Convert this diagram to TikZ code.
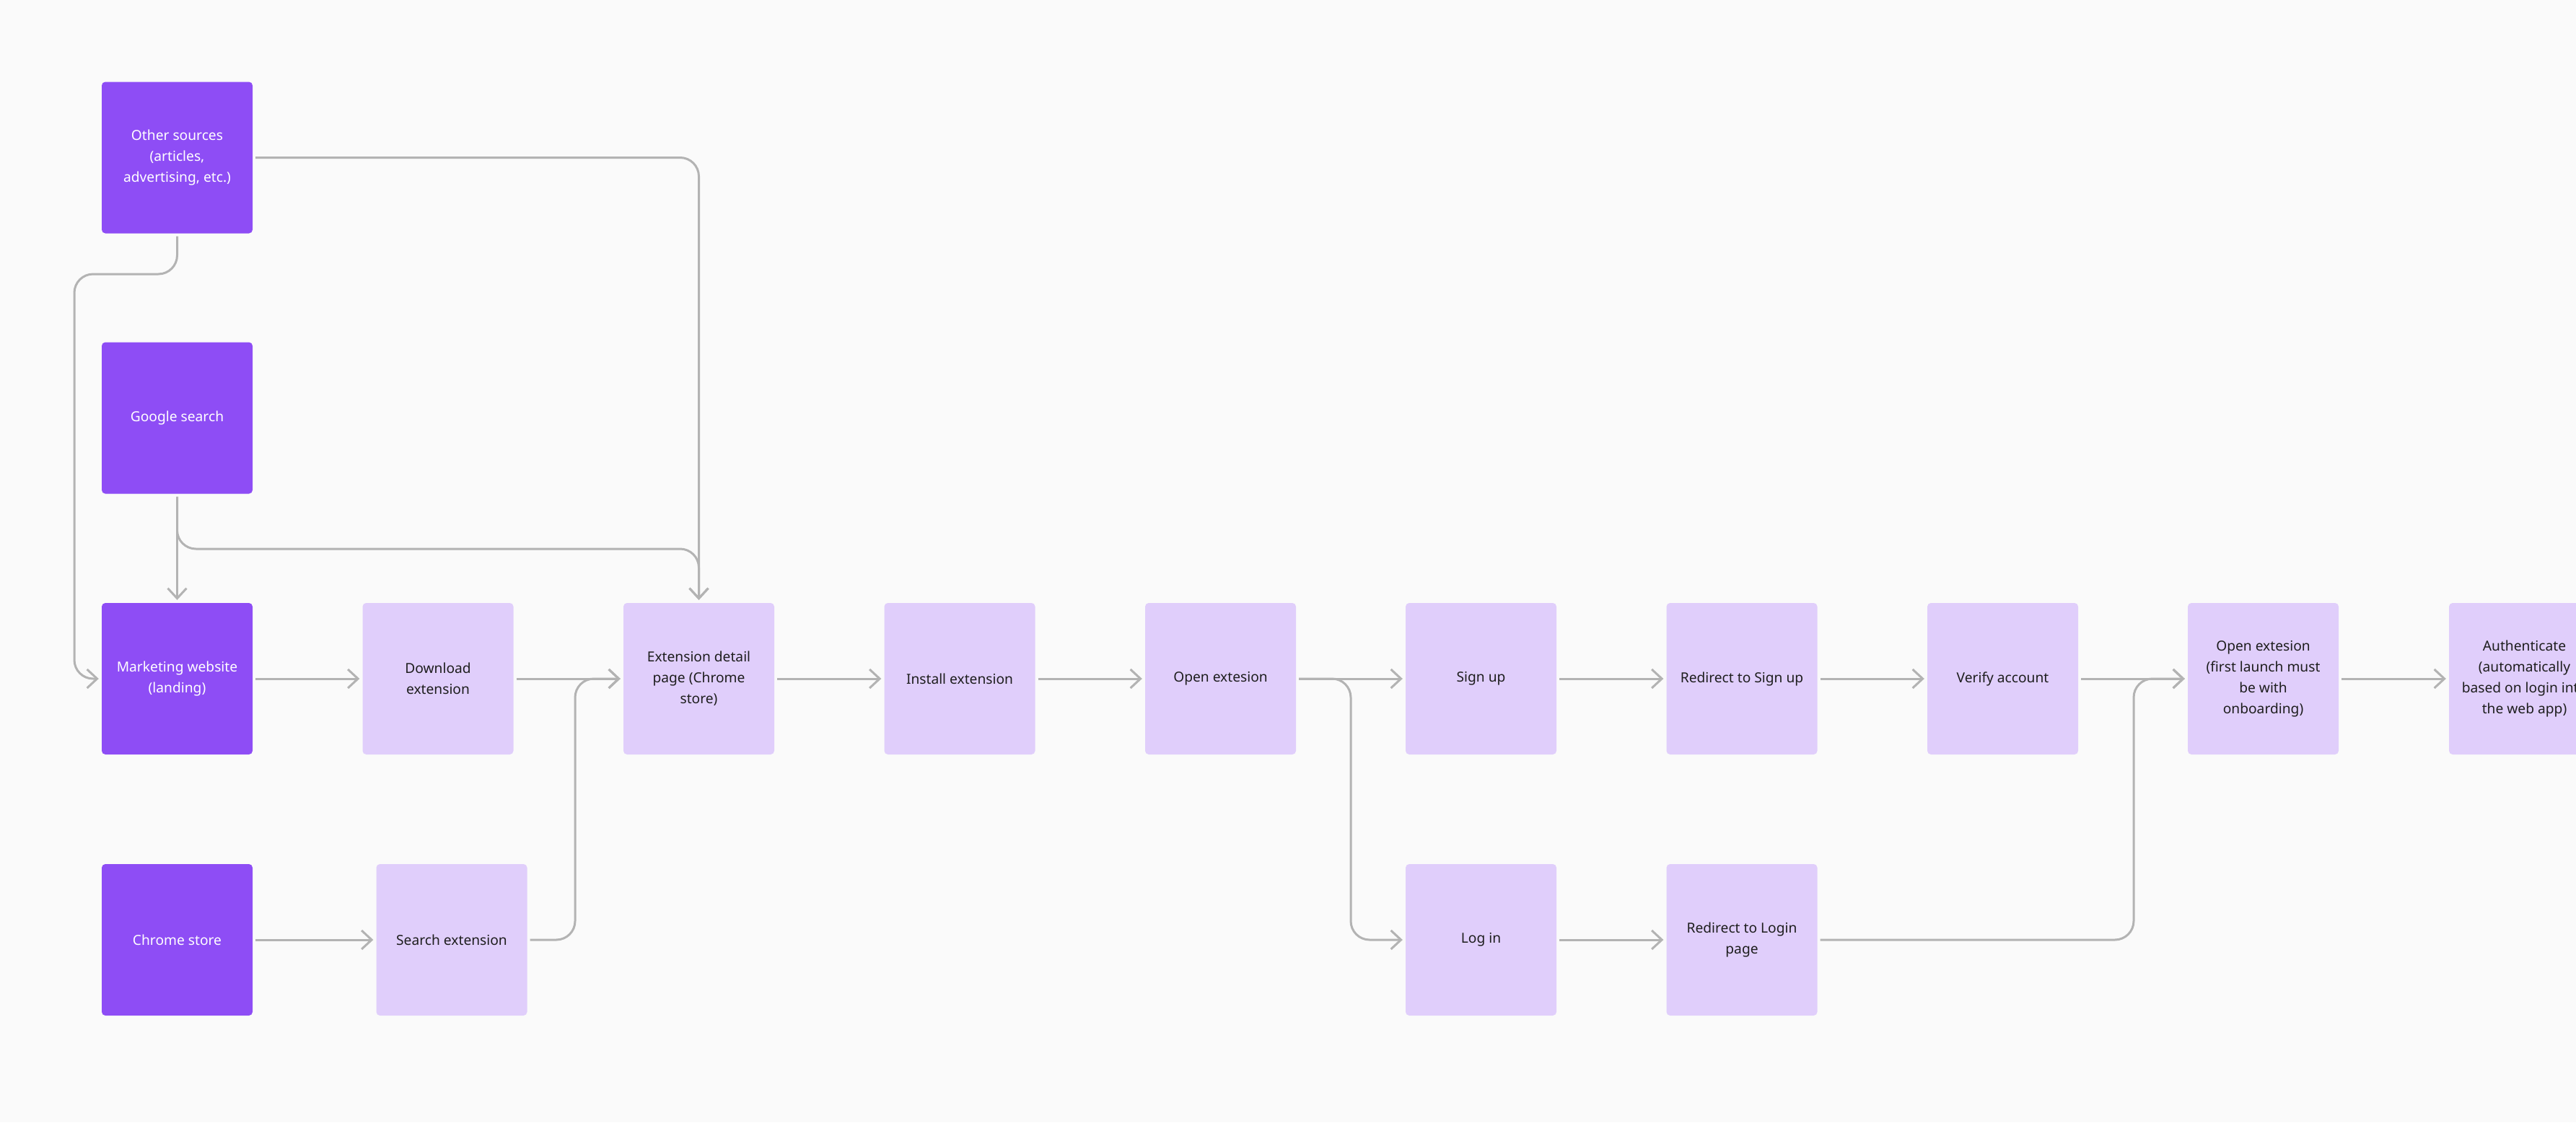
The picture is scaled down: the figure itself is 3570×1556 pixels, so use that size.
\documentclass[tikz,border=0pt]{standalone}
\usepackage{fontspec}
\setmainfont{Noto Sans}
\usetikzlibrary{arrows.meta}
\definecolor{bg}{HTML}{FAFAFA}
\definecolor{darkv}{HTML}{8E4DF5}
\definecolor{lightv}{HTML}{E0CEFB}
\definecolor{lncol}{HTML}{B3B3B3}
\definecolor{txtcol}{HTML}{1E1E1E}
\begin{document}
\begin{tikzpicture}[x=1pt,y=-1pt,
  box/.style={rounded corners=5pt, minimum width=209pt, minimum height=210pt, inner sep=0pt, align=center, font=\fontsize{19.2}{29}\selectfont},
  src/.style={box, fill=darkv, text=white},
  stp/.style={box, fill=lightv, text=txtcol},
  conn/.style={draw=lncol, line width=3pt, rounded corners=26pt, shorten <=4pt, shorten >=4pt, -{Straight Barb[length=14pt,width=26pt]}}]
\useasboundingbox (0,0) rectangle (3570,1556);
\fill[bg] (0,0) rectangle (3570,1556);
\clip (0,0) rectangle (3570,1556);
% nodes
\node[src] (os) at (245.5,218.5) {Other sources\\(articles,\\advertising, etc.)};
\node[src] (gs) at (245.5,579.5) {Google search};
\node[src] (mk) at (245.5,941) {Marketing website\\(landing)};
\node[src] (cs) at (245.5,1303) {Chrome store};
\node[stp] (dl) at (607,941) {Download\\extension};
\node[stp] (se) at (626,1303) {Search extension};
\node[stp] (ed) at (968.5,941) {Extension detail\\page (Chrome\\store)};
\node[stp] (ie) at (1330,941) {Install extension};
\node[stp] (oe) at (1691.5,941) {Open extesion};
\node[stp] (su) at (2052.5,941) {Sign up};
\node[stp] (li) at (2052.5,1303) {Log in};
\node[stp] (rs) at (2414,941) {Redirect to Sign up};
\node[stp] (rl) at (2414,1303) {Redirect to Login\\page};
\node[stp] (va) at (2775.5,941) {Verify account};
\node[stp] (o2) at (3136.5,941) {Open extesion\\(first launch must\\be with\\onboarding)};
\node[stp] (au) at (3498.5,941) {Authenticate\\(automatically\\based on login into\\the web app)};
% bend points
\coordinate (k1) at (103,380);
\coordinate (k2) at (0,761);
\coordinate (k3) at (797,0);
\coordinate (k4) at (1872,0);
\coordinate (k5) at (2957,0);
% connectors
\draw[conn] (os.east) -| (ed.north);
\draw[conn] (os.south) -- (os.south |- k1) -- (k1) |- (mk.west);
\draw[conn] (gs.south) -- (mk.north);
\draw[conn] (gs.south) -- (gs.south |- k2) -| (ed.north);
\draw[conn] (mk.east) -- (dl.west);
\draw[conn] (dl.east) -- (ed.west);
\draw[conn] (cs.east) -- (se.west);
\draw[conn] (se.east) -- (k3 |- se.east) |- (ed.west);
\draw[conn] (ed.east) -- (ie.west);
\draw[conn] (ie.east) -- (oe.west);
\draw[conn] (oe.east) -- (su.west);
\draw[conn] (oe.east) -- (k4 |- oe.east) |- (li.west);
\draw[conn] (su.east) -- (rs.west);
\draw[conn] (li.east) -- (rl.west);
\draw[conn] (rs.east) -- (va.west);
\draw[conn] (va.east) -- (o2.west);
\draw[conn] (rl.east) -- (k5 |- rl.east) |- (o2.west);
\draw[conn] (o2.east) -- (au.west);
\end{tikzpicture}
\end{document}
